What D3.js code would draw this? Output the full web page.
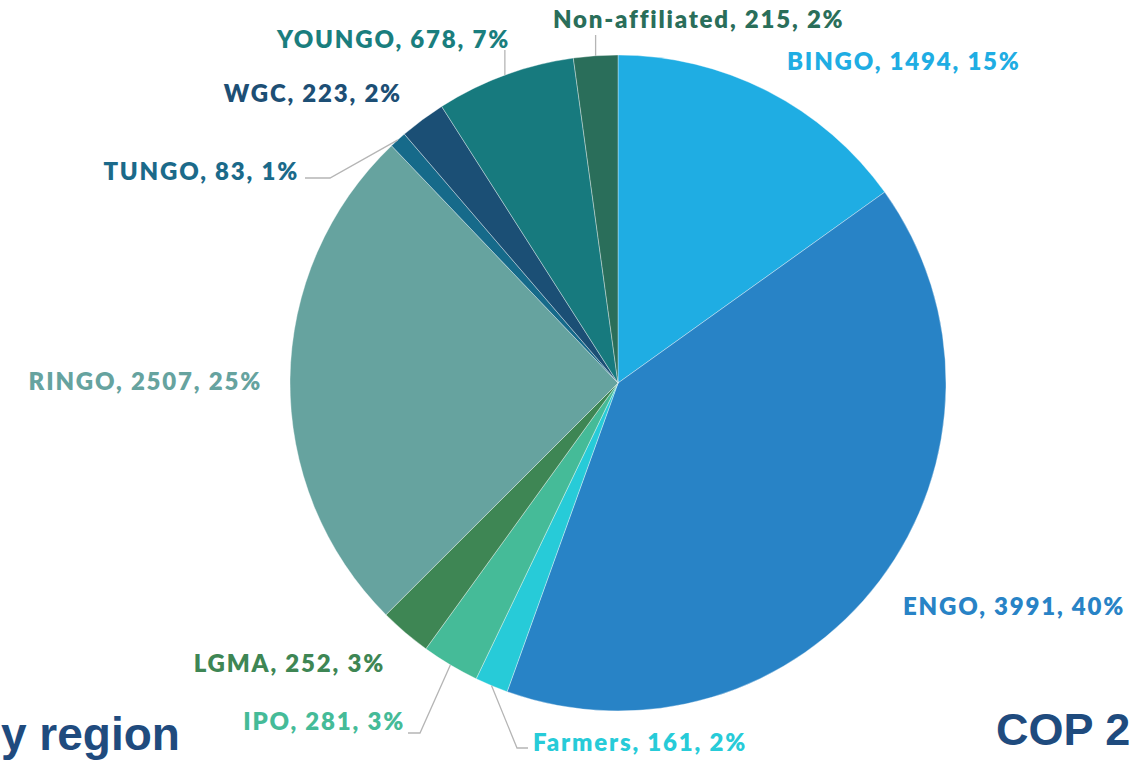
<!DOCTYPE html>
<html>
<head>
<meta charset="utf-8">
<script src="https://cdn.jsdelivr.net/npm/d3@7"></script>
<style>
  html, body { margin: 0; padding: 0; background: #fff; overflow: hidden; }
  svg { display: block; }
</style>
</head>
<body>
<svg id="chart" width="1134" height="761"></svg>
<script>
// ---- data ----
const categories = ["BINGO", "ENGO", "Farmers", "IPO", "LGMA", "RINGO", "TUNGO", "WGC", "YOUNGO", "Non-affiliated"];
const values     = [1494, 3991, 161, 281, 252, 2507, 83, 223, 678, 215];
const percents   = ["15%", "40%", "2%", "3%", "3%", "25%", "1%", "2%", "7%", "2%"];

// ---- styles ----
const colors = ["#1fade3", "#2883c6", "#27cbd8", "#45bb98", "#3e8654", "#66a39f", "#166a8a", "#1b4f75", "#177a7e", "#2a6e5a"];
const labelColors = ["#1fade3", "#2883c6", "#27cbd8", "#45bb98", "#3e8654", "#66a39f", "#1b6a8a", "#1d4f75", "#1a7e7e", "#2a6e5a"];

// ---- layout (label placement) ----
const labelLayout = [
  { x: 787, y: 61,  anchor: "start", elbow: null },
  { x: 903, y: 606, anchor: "start", elbow: null },
  { x: 533, y: 742, anchor: "start", elbow: [[517, 748], [528, 748]] },
  { x: 405, y: 721, anchor: "end",   elbow: [[420, 733], [408, 733]] },
  { x: 385, y: 663, anchor: "end",   elbow: null },
  { x: 262, y: 381, anchor: "end",   elbow: null },
  { x: 299, y: 171, anchor: "end",   elbow: [[330, 178], [305, 178]] },
  { x: 402, y: 93,  anchor: "end",   elbow: null },
  { x: 510, y: 39,  anchor: "end",   elbow: "up", top: 50 },
  { x: 553, y: 19,  anchor: "start", elbow: "up", top: 35 }
];

const cx = 618, cy = 383, R = 328;
const svg = d3.select("#chart");
const g = svg.append("g").attr("transform", `translate(${cx},${cy})`);

const data = categories.map((c, i) => ({ name: c, value: values[i], pct: percents[i], i }));
const pie = d3.pie().value(d => d.value).sort(null);
const arcs = pie(data);
const arc = d3.arc().innerRadius(0).outerRadius(R);

g.selectAll("path.slice")
  .data(arcs)
  .join("path")
  .attr("class", "slice")
  .attr("d", arc)
  .attr("fill", d => colors[d.data.i])
  .attr("stroke", "rgba(255,255,255,0.45)")
  .attr("stroke-width", 0.8);

// leader lines
const lineG = svg.append("g");
arcs.forEach(a => {
  const L = labelLayout[a.data.i];
  if (!L.elbow) return;
  const mid = (a.startAngle + a.endAngle) / 2;
  const px = cx + R * Math.sin(mid);
  const py = cy - R * Math.cos(mid);
  let pts;
  if (L.elbow === "up") pts = [[px, py], [px, L.top]];
  else pts = [[px, py]].concat(L.elbow);
  lineG.append("path")
    .attr("d", d3.line()(pts))
    .attr("fill", "none")
    .attr("stroke", "#b5b5b5")
    .attr("stroke-width", 1.3);
});

// labels
svg.append("g").selectAll("text.lbl")
  .data(arcs)
  .join("text")
  .attr("class", "lbl")
  .attr("x", d => labelLayout[d.data.i].x)
  .attr("y", d => labelLayout[d.data.i].y + 8.5)
  .attr("text-anchor", d => labelLayout[d.data.i].anchor)
  .attr("fill", d => labelColors[d.data.i])
  .style("font-family", "Lato, 'Open Sans', sans-serif")
  .style("font-weight", 800)
  .style("font-size", "24px")
  .style("letter-spacing", "1.8px")
  .text(d => `${d.data.name}, ${d.data.value}, ${d.data.pct}`);

// cropped slide texts (kept inside the frame)
svg.append("text")
  .attr("x", 1).attr("y", 750)
  .attr("fill", "#1f4b7e")
  .style("font-family", "'Liberation Sans', Arial, sans-serif")
  .style("font-weight", 700)
  .style("font-size", "46px")
  .text("y region");

svg.append("text")
  .attr("x", 996).attr("y", 745)
  .attr("fill", "#1f4b7e")
  .style("font-family", "'Liberation Sans', Arial, sans-serif")
  .style("font-weight", 700)
  .style("font-size", "45px")
  .text("COP 2");
</script>
</body>
</html>
